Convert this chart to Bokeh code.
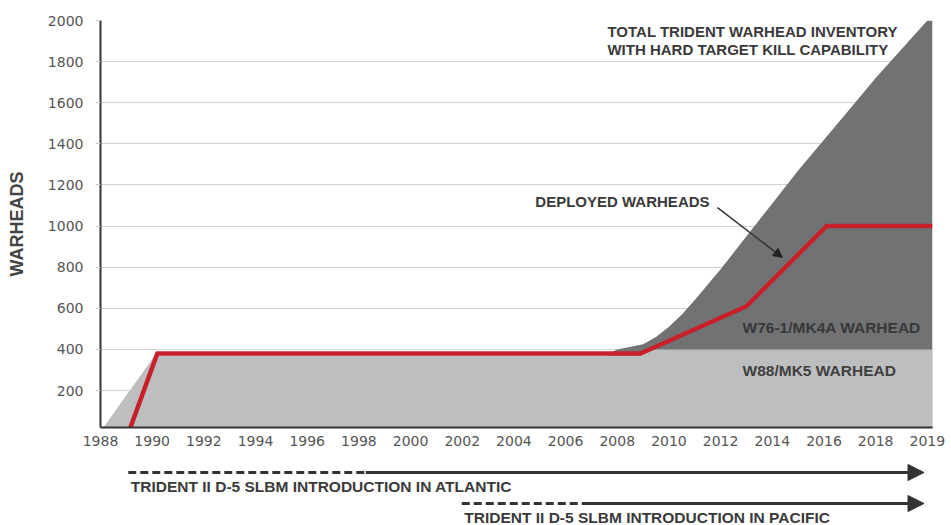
from bokeh.plotting import figure
from bokeh.models import Range1d, FixedTicker, Arrow, NormalHead, Label
from bokeh.layouts import column
from bokeh.embed import file_html
from bokeh.resources import INLINE

# ---------------- data ----------------
tick_years = [1988, 1990, 1992, 1994, 1996, 1998, 2000, 2002, 2004, 2006,
              2008, 2010, 2012, 2014, 2016, 2018, 2020]
tick_labels = ["1988", "1990", "1992", "1994", "1996", "1998", "2000", "2002",
               "2004", "2006", "2008", "2010", "2012", "2014", "2016", "2018", "2019"]
y_ticks = [200, 400, 600, 800, 1000, 1200, 1400, 1600, 1800, 2000]

# W88/MK5 warheads (light gray)
w88_years = [1988.0, 1990.1, 2008.9, 2009.2, 2020.2]
w88_values = [0, 370, 370, 400, 400]

# Total Trident warhead inventory with hard target kill capability (dark gray)
total_years = [2007.6, 2008.0, 2009.0, 2009.5, 2010.0, 2010.5, 2011.0, 2012.0,
               2013.0, 2014.0, 2015.0, 2016.0, 2017.0, 2018.0, 2019.0, 2020.0, 2020.2]
total_values = [375, 400, 425, 460, 510, 570, 640, 790, 950, 1110, 1270, 1420,
                1570, 1720, 1860, 2000, 2000]

# Deployed warheads (red line)
deployed_years = [1989.1, 1990.2, 2008.9, 2013.0, 2016.1, 2020.2]
deployed_values = [0, 380, 380, 610, 1000, 1000]

# Introduction timelines (dashed = introduction phase, solid = deployed)
atlantic_start, atlantic_solid = 1989.1, 1998.5
pacific_start, pacific_solid = 2002.3, 2007.1
timeline_end = 2020.6

# ---------------- style ----------------
DARK = "#717274"
LIGHT = "#bdbec0"
RED = "#c8202b"
TXT = "#3a3a3a"
BOLD_FONT = "Liberation Sans"

W = 951
LEFT, RIGHT = 100, 19
X0, X1 = 1988, 2020.2
px_per_year = (W - LEFT - RIGHT) / (X1 - X0)

p = figure(width=W, height=453, x_range=Range1d(X0, X1), y_range=Range1d(20, 2000),
           output_backend="svg", toolbar_location=None,
           min_border_left=LEFT, min_border_right=RIGHT,
           min_border_top=20, min_border_bottom=26)
p.outline_line_color = None
p.background_fill_color = "white"
p.xgrid.grid_line_color = None
p.ygrid.grid_line_color = "#d2d2d2"
p.ygrid.grid_line_width = 1
p.ygrid.ticker = FixedTicker(ticks=y_ticks)

p.xaxis.ticker = FixedTicker(ticks=tick_years)
p.xaxis.major_label_overrides = {y: lbl for y, lbl in zip(tick_years, tick_labels)}
p.xaxis.major_tick_out = 0
p.xaxis.major_tick_in = 0
p.xaxis.minor_tick_line_color = None
p.xaxis.axis_line_color = "#333333"
p.xaxis.axis_line_width = 2
p.xaxis.major_label_standoff = 8

p.yaxis.ticker = FixedTicker(ticks=y_ticks)
p.yaxis.major_tick_out = 5
p.yaxis.major_tick_in = 0
p.yaxis.major_tick_line_color = "#c8c8c8"
p.yaxis.minor_tick_line_color = None
p.yaxis.axis_line_color = "#333333"
p.yaxis.axis_line_width = 2
p.yaxis.major_label_standoff = 12
p.yaxis.axis_label = "WARHEADS"
p.yaxis.axis_label_text_font = BOLD_FONT
p.yaxis.axis_label_text_font_style = "bold"
p.yaxis.axis_label_text_font_size = "18px"
p.yaxis.axis_label_text_color = "#444444"
p.yaxis.axis_label_standoff = 18

for ax in (p.xaxis, p.yaxis):
    ax.major_label_text_font = "DejaVu Sans"
    ax.major_label_text_font_size = "14px"
    ax.major_label_text_color = "#555555"

# areas
p.varea(x=total_years, y1=[0] * len(total_years), y2=total_values, color=DARK)
p.varea(x=w88_years, y1=[0] * len(w88_years), y2=w88_values, color=LIGHT)
# deployed line
p.line(deployed_years, deployed_values, line_color=RED, line_width=4.5, line_join="round")

def lab(fig, x, y, text, size="15px", color=TXT, baseline="middle"):
    fig.add_layout(Label(x=x, y=y, text=text, text_font=BOLD_FONT, text_font_style="bold",
                         text_font_size=size, text_color=color, text_baseline=baseline,
                         text_align="left"))

lab(p, 2007.62, 1946, "TOTAL TRIDENT WARHEAD INVENTORY", size="15px")
lab(p, 2007.62, 1859, "WITH HARD TARGET KILL CAPABILITY", size="15px")
lab(p, 2004.83, 1119, "DEPLOYED WARHEADS", size="15px")
lab(p, 2012.85, 506, "W76-1/MK4A WARHEAD", size="15.5px", color="#383838")
lab(p, 2012.85, 297, "W88/MK5 WARHEAD", size="15.5px", color="#404040")

p.add_layout(Arrow(end=NormalHead(size=9, fill_color="#222222", line_color="#222222"),
                   x_start=2011.88, y_start=1090, x_end=2014.39, y_end=847,
                   line_color="#333333", line_width=1.5))

# ---------------- timeline panel ----------------
H2 = 72
p2 = figure(width=W, height=H2,
            x_range=Range1d(X0, X0 + (W - LEFT) / px_per_year), y_range=Range1d(0, H2),
            output_backend="svg", toolbar_location=None,
            min_border_left=LEFT, min_border_right=0, min_border_top=0, min_border_bottom=0)
p2.axis.visible = False
p2.grid.grid_line_color = None
p2.outline_line_color = None

ARROW_C = "#333333"
for start, solid, y_line, y_text, text in [
        (atlantic_start, atlantic_solid, 53, 48, "TRIDENT II D-5 SLBM INTRODUCTION IN ATLANTIC"),
        (pacific_start, pacific_solid, 22, 17, "TRIDENT II D-5 SLBM INTRODUCTION IN PACIFIC")]:
    p2.line([start, solid], [y_line, y_line], line_color=ARROW_C, line_width=3, line_dash="8 4")
    p2.add_layout(Arrow(end=NormalHead(size=16, fill_color=ARROW_C, line_color=ARROW_C),
                        x_start=solid, y_start=y_line, x_end=timeline_end, y_end=y_line,
                        line_color=ARROW_C, line_width=3))
    lab(p2, start + 0.1, y_text, text, size="15.5px", baseline="top")

layout = column(p, p2, spacing=0)
open("out.html", "w").write(file_html(layout, INLINE))
